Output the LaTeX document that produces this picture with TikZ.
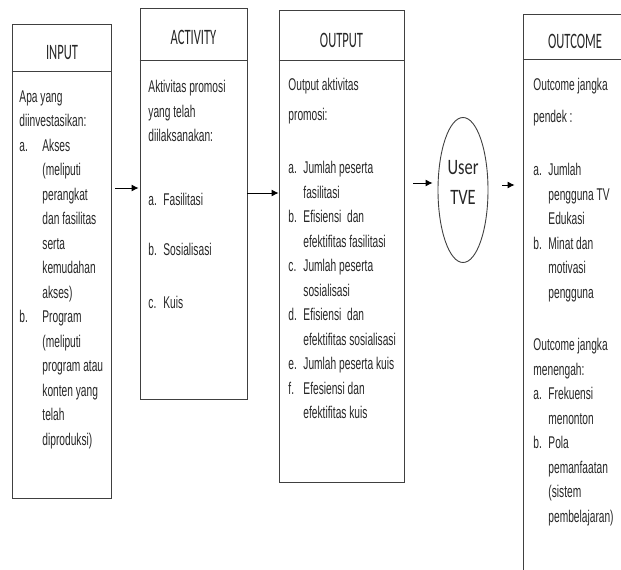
\documentclass[tikz,border=0pt]{standalone}
\usepackage{fontspec}
\setmainfont{Liberation Sans}
\newfontfamily\bodyfont[FakeStretch=0.6]{Liberation Sans}
\newfontfamily\headfont[FakeStretch=0.57]{Carlito}
\newfontfamily\userfont[FakeStretch=0.75]{Carlito}
\usetikzlibrary{arrows.meta,calc,shapes.geometric}

\newcommand{\itm}[2][15pt]{\makebox[#1][l]{#2}}
\newcommand{\cnt}[1][15pt]{\hspace*{#1}}

\tikzset{every picture/.style={line width=0.9pt}}
\tikzset{
  box/.style={draw=black!75, inner sep=0pt},
  body/.style={anchor=north west, inner sep=0pt, align=left, text=black!85, font=\bodyfont\fontsize{17}{24.5}\selectfont},
  head/.style={inner sep=0pt, text=black!85, font=\headfont\fontsize{22}{26}\selectfont},
  arr/.style={-{Latex[length=7pt,width=7pt]}, black}
}

\begin{document}
\begin{tikzpicture}[x=1pt,y=1pt,yscale=-1,xscale=1]
        \clip (0,0) rectangle (621,570);

        %Shape: Rectangle [input]
        \node[box, minimum width=99pt, minimum height=474pt] (input) at (61.5,261) {};
        \draw[draw=black!75] (input.west |- 0,71) -- (input.east |- 0,71);
        %Shape: Rectangle [activity]
        \node[box, minimum width=107pt, minimum height=391pt] (activity) at (193.5,203.5) {};
        \draw[draw=black!75] (activity.west |- 0,60) -- (activity.east |- 0,60);
        %Shape: Rectangle [output]
        \node[box, minimum width=125pt, minimum height=472pt] (output) at (341.5,246) {};
        \draw[draw=black!75] (output.west |- 0,60) -- (output.east |- 0,60);
        %Shape: Ellipse [user]
        \node[box, ellipse, minimum width=50pt, minimum height=145pt] (user) at (463,190) {};
        %Shape: Rectangle [outcome]
        \node[box, minimum width=104pt, minimum height=586pt] (outcome) at (575,307) {};
        \draw[draw=black!75] (outcome.west |- 0,59) -- (outcome.east |- 0,59);

        %Straight Lines
        \draw[arr] ($(input.east |- 0,188)+(4,0)$) -- ($(activity.west |- 0,188)+(-1,0)$);
        \draw[arr] (activity.east |- 0,193) -- (output.west |- 0,193);
        \draw[arr] ($(output.east |- 0,183)+(9,0)$) -- ($(user.west |- 0,183)+(-5,0)$);
        \draw[arr] ($(user.east |- 0,185)+(14,0)$) -- ($(outcome.west |- 0,185)+(-8,0)$);

        % Text Node
        \node[head] (inputhd) at (62,53) {INPUT};
        \node[head] (activityhd) at (193.5,37) {ACTIVITY};
        \node[head] (outputhd) at (341.5,40) {OUTPUT};
        \node[head] (outcomehd) at (575,41) {OUTCOME};
        \node[inner sep=0pt, align=center, text=black!85, font=\userfont\fontsize{22}{30}\selectfont] (usertxt) at (463,182) {User\\TVE};

        % Text Node
        \node[body] (inputtxt) at (19,90) {Apa yang\\
          diinvestasikan:\\
          \itm[23pt]{a.}Akses\\
          \cnt[23pt](meliputi\\
          \cnt[23pt]perangkat\\
          \cnt[23pt]dan fasilitas\\
          \cnt[23pt]serta\\
          \cnt[23pt]kemudahan\\
          \cnt[23pt]akses)\\
          \itm[23pt]{b.}Program\\
          \cnt[23pt](meliputi\\
          \cnt[23pt]program atau\\
          \cnt[23pt]konten yang\\
          \cnt[23pt]telah\\
          \cnt[23pt]diproduksi)};
        % Text Node
        \node[body] (activitytxt) at (148,80) {Aktivitas promosi\\
          yang telah\\
          diilaksanakan:\\[39.5pt]
          \itm{a.}Fasilitasi\\[25.5pt]
          \itm{b.}Sosialisasi\\[28.5pt]
          \itm{c.}Kuis};
        % Text Node
        \node[body] (outputtxt) at (288,78) {Output aktivitas\\[5.5pt]
          promosi:\\[28.5pt]
          \itm{a.}Jumlah peserta\\
          \cnt fasilitasi\\
          \itm{b.}Efisiensi~ dan\\
          \cnt efektifitas fasilitasi\\
          \itm{c.}Jumlah peserta\\
          \cnt sosialisasi\\
          \itm{d.}Efisiensi~ dan\\
          \cnt efektifitas sosialisasi\\
          \itm{e.}Jumlah peserta kuis\\
          \itm{f.}Efesiensi dan\\
          \cnt efektifitas kuis};
        % Text Node
        \node[body] (outcometxt) at (533,78) {Outcome jangka\\[7.5pt]
          pendek :\\[28.5pt]
          \itm{a.}Jumlah\\
          \cnt pengguna TV\\
          \cnt Edukasi\\
          \itm{b.}Minat dan\\
          \cnt motivasi\\
          \cnt pengguna\\[28pt]
          Outcome jangka\\
          menengah:\\
          \itm{a.}Frekuensi\\
          \cnt menonton\\
          \itm{b.}Pola\\
          \cnt pemanfaatan\\
          \cnt (sistem\\
          \cnt pembelajaran)};

\end{tikzpicture}
\end{document}
